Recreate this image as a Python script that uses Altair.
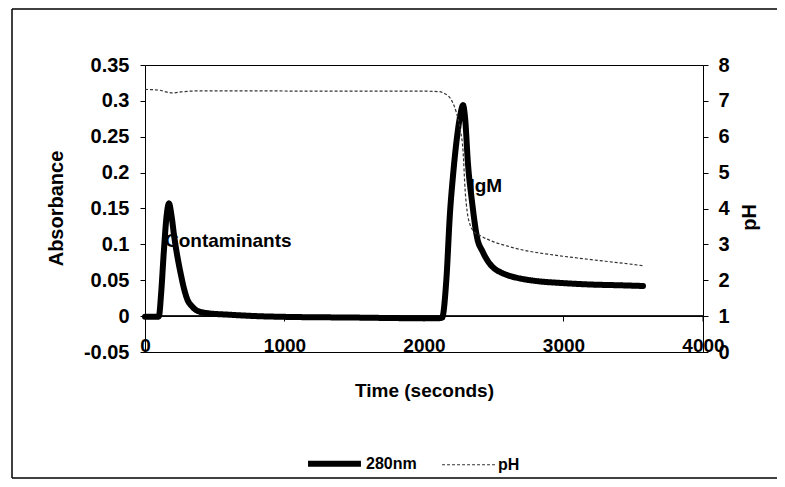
import altair as alt
import pandas as pd

# 280 nm absorbance trace (time in s, absorbance)
abs_time = [0, 90, 100, 115, 135, 155, 172, 190, 210, 235, 255, 280, 300, 340, 380,
            450, 600, 800, 1000, 1500, 2000, 2100, 2130, 2160, 2186, 2210, 2237, 2260,
            2280, 2295, 2315, 2344, 2380, 2420, 2460, 2500, 2550, 2600, 2700, 2800,
            3000, 3200, 3400, 3570]
abs_value = [-0.001, -0.001, 0.0, 0.03, 0.09, 0.14, 0.157, 0.14, 0.11, 0.08, 0.06,
             0.038, 0.025, 0.013, 0.007, 0.004, 0.002, 0.0, -0.001, -0.002, -0.003,
             -0.003, -0.002, 0.05, 0.143, 0.2, 0.25, 0.28, 0.294, 0.275, 0.213, 0.16,
             0.11, 0.09, 0.076, 0.067, 0.061, 0.057, 0.052, 0.049, 0.046, 0.044,
             0.043, 0.042]

# pH trace (time in s, pH)
ph_time = [0, 100, 150, 200, 260, 400, 800, 1200, 1600, 2000, 2100, 2150, 2200, 2230,
           2260, 2280, 2295, 2310, 2330, 2360, 2400, 2500, 2600, 2700, 2900, 3100,
           3300, 3500, 3580]
ph_value = [7.32, 7.3, 7.25, 7.22, 7.25, 7.28, 7.28, 7.27, 7.27, 7.27, 7.26, 7.2, 7.0,
            6.7, 6.2, 5.6, 4.5, 3.9, 3.55, 3.35, 3.25, 3.07, 2.95, 2.85, 2.72, 2.62,
            2.53, 2.44, 2.4]

series_names = ["280nm", "pH"]
abs_ticks = [-0.05, 0, 0.05, 0.1, 0.15, 0.2, 0.25, 0.3, 0.35]
ph_ticks = [0, 1, 2, 3, 4, 5, 6, 7, 8]
time_ticks = [0, 1000, 2000, 3000, 4000]
zero_tick_times = [1000, 2000, 3000, 4000]

ann_text = ["Contaminants", "IgM"]
ann_time = [143, 2326]
ann_abs = [0.105, 0.182]

FONT = "Liberation Sans"

df_abs = pd.DataFrame({"t": abs_time, "v": abs_value, "series": "280nm"})
df_ph = pd.DataFrame({"t": ph_time, "v": ph_value, "series": "pH"})
df_ann = pd.DataFrame({"t": ann_time, "v": ann_abs, "label": ann_text})
df_zt = pd.DataFrame({"t": zero_tick_times, "v": 0.0, "v2": -0.0075})

x_scale = alt.Scale(domain=[0, 4000], nice=False, zero=False)
x_axis = alt.Axis(values=time_ticks, format="d", title="Time (seconds)",
                  ticks=False, domain=False, grid=False, labelOverlap=False,
                  labelPadding=-16, labelFontSize=19, labelFontWeight="bold",
                  labelFont=FONT, labelColor="black", labelFlush=False,
                  titleFont=FONT, titleFontSize=19, titleFontWeight="bold",
                  titleColor="black", titleY=38, titleBaseline="middle")
x_enc = alt.X("t:Q", scale=x_scale, axis=x_axis)

abs_scale = alt.Scale(domain=[-0.05, 0.35], nice=False, zero=False)
ph_scale = alt.Scale(domain=[0, 8], nice=False, zero=False)

abs_axis = alt.Axis(values=abs_ticks, labelExpr="'' + datum.value",
                    title="Absorbance", orient="left", grid=False,
                    labelOverlap=False,
                    tickSize=5, tickColor="black", domainColor="black",
                    labelPadding=11, labelFontSize=20, labelFontWeight="bold",
                    labelFont=FONT, labelColor="black",
                    titleFont=FONT, titleFontSize=20, titleFontWeight="bold",
                    titleColor="black", titleAngle=270, titleX=-89, titleY=143,
                    titleBaseline="middle")
abs_enc = alt.Y("v:Q", scale=abs_scale, axis=abs_axis)

color_scale = alt.Scale(domain=series_names, range=["black", "#333333"])
dash_scale = alt.Scale(domain=series_names, range=[[1, 0], [3, 2]])
width_scale = alt.Scale(domain=series_names, range=[6, 1.2])

legend = alt.Legend(title=None, orient="none", legendX=160, legendY=369,
                    direction="horizontal", symbolType="stroke", symbolSize=2800,
                    labelFont=FONT, labelFontSize=16, labelFontWeight="bold",
                    labelColor="black", columnPadding=22, labelOffset=2, padding=0)

def series_enc():
    return dict(
        color=alt.Color("series:N", scale=color_scale, legend=legend),
        strokeDash=alt.StrokeDash("series:N", scale=dash_scale, legend=legend),
        strokeWidth=alt.StrokeWidth("series:N", scale=width_scale, legend=legend),
    )

one = alt.Data(values=[{}])
# outer chart frame: top, left and bottom edges (right edge lies off the page)
frame_top = alt.Chart(one).mark_rule(color="black", strokeWidth=1.5).encode(
    x=alt.value(-133), x2=alt.value(900), y=alt.value(-56))
frame_left = alt.Chart(one).mark_rule(color="black", strokeWidth=1.5).encode(
    x=alt.value(-133), y=alt.value(-56), y2=alt.value(413))
frame_bottom = alt.Chart(one).mark_rule(color="black", strokeWidth=1.5).encode(
    x=alt.value(-133), x2=alt.value(900), y=alt.value(413))

zero_ticks = alt.Chart(df_zt).mark_rule(color="black", strokeWidth=1).encode(
    x=x_enc, y=abs_enc, y2="v2:Q")

zero_line = alt.Chart(df_zt).mark_rule(color="black", strokeWidth=1).encode(
    y=abs_enc, x=alt.value(0), x2=alt.value(558))

ann = alt.Chart(df_ann).mark_text(
    align="left", baseline="middle", font=FONT, fontSize=19, fontWeight="bold",
    color="black"
).encode(x=x_enc, y=abs_enc, text="label:N")

line_abs = alt.Chart(df_abs).mark_line(strokeCap="round", strokeJoin="round",
                                       interpolate="monotone").encode(
    x=x_enc, y=abs_enc, **series_enc())

left = alt.layer(frame_top, frame_left, frame_bottom, zero_line, zero_ticks, ann,
                 line_abs)

line_ph = alt.Chart(df_ph).mark_line(interpolate="monotone").encode(
    x=x_enc,
    y=alt.Y("v:Q", scale=ph_scale,
            axis=alt.Axis(values=ph_ticks, format="d", title="pH", orient="right",
                          grid=False, labelOverlap=False, tickSize=5, tickColor="black",
                          domainColor="black", labelPadding=10, labelFontSize=20,
                          labelFontWeight="bold", labelFont=FONT, labelColor="black",
                          titleFont=FONT, titleFontSize=20, titleFontWeight="bold",
                          titleColor="black", titleAngle=270, titleX=46, titleY=152,
                          titleBaseline="middle")),
    **series_enc())

chart = alt.layer(left, line_ph).resolve_scale(y="independent").properties(
    width=558, height=287, autosize="none",
    padding={"left": 137, "top": 57, "right": 74, "bottom": 127},
    background="white"
).configure_view(stroke="black", strokeWidth=1).configure_axis(labelOverlap=False)

chart.save("out.html", embed_options={"renderer": "svg", "actions": False})
